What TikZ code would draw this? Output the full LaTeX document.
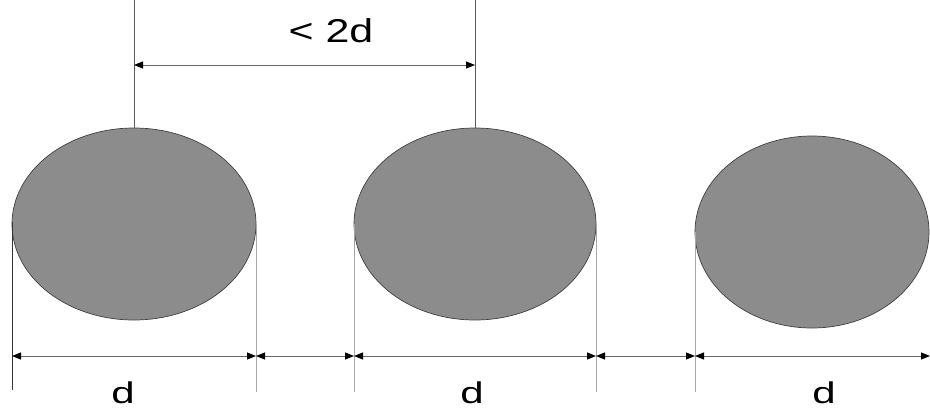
\documentclass[tikz,border=0pt]{standalone}
\usepackage{fontspec}
\setmainfont{Liberation Sans}
\usetikzlibrary{shapes.geometric,arrows.meta}
\begin{document}
\begin{tikzpicture}[x=1pt,y=-1pt,
  blob/.style={ellipse,draw=black!75,line width=0.7pt,fill=black!45,inner sep=0pt},
  extline/.style={draw=black!35,line width=0.6pt},
  extdark/.style={draw=black!80,line width=0.9pt},
  dimline/.style={draw=black!60,line width=1pt,{Triangle[length=9pt,width=7pt,color=black]}-{Triangle[length=9pt,width=7pt,color=black]}},
  lbl/.style={font=\fontsize{30}{32}\selectfont,inner sep=0pt}]
\useasboundingbox (0,0) rectangle (930,413);
% ellipses
\node[blob,minimum width=244pt,minimum height=192pt] (e1) at (134,224) {};
\node[blob,minimum width=242pt,minimum height=192pt] (e2) at (475,224) {};
\node[blob,minimum width=234pt,minimum height=192pt] (e3) at (812,232) {};
% coordinates
\coordinate (a1) at (12,222);  \coordinate (a2) at (12,390);
\coordinate (b1) at (256,224); \coordinate (b2) at (256,392);
\coordinate (c1) at (354,224); \coordinate (c2) at (354,392);
\coordinate (d1) at (596,224); \coordinate (d2) at (596,392);
\coordinate (f1) at (695,232); \coordinate (f2) at (695,392);
\coordinate (t1) at (134,0);   \coordinate (t2) at (475,0);
\coordinate (h1) at (12,356);  \coordinate (h2) at (256,356);
\coordinate (h3) at (354,356); \coordinate (h4) at (596,356);
\coordinate (h5) at (695,356); \coordinate (h6) at (930,356);
\coordinate (u1) at (134,65);  \coordinate (u2) at (475,65);
% extension lines
\draw[extdark] (a1) -- (a2);
\draw[extline] (b1) -- (b2);
\draw[extline] (c1) -- (c2);
\draw[extline] (d1) -- (d2);
\draw[extline] (f1) -- (f2);
\draw[extdark,draw=black!65,line width=0.7pt] (t1) -- (e1.north);
\draw[extdark,draw=black!65,line width=0.7pt] (t2) -- (e2.north);
% dimension lines
\draw[dimline] (h1) -- (h2);
\draw[dimline] (h2) -- (h3);
\draw[dimline] (h3) -- (h4);
\draw[dimline] (h4) -- (h5);
\draw[dimline] (h5) -- (h6);
\draw[dimline] (u1) -- (u2);
% labels
\node[lbl,font=\fontsize{33}{35}\selectfont] (l0) at (331,31) {\scalebox{1.3}[1]{< 2d}};
\node[lbl] (l1) at (123,393) {\scalebox{1.4}[1]{d}};
\node[lbl] (l2) at (472,393) {\scalebox{1.4}[1]{d}};
\node[lbl] (l3) at (824,393) {\scalebox{1.4}[1]{d}};
\end{tikzpicture}
\end{document}
